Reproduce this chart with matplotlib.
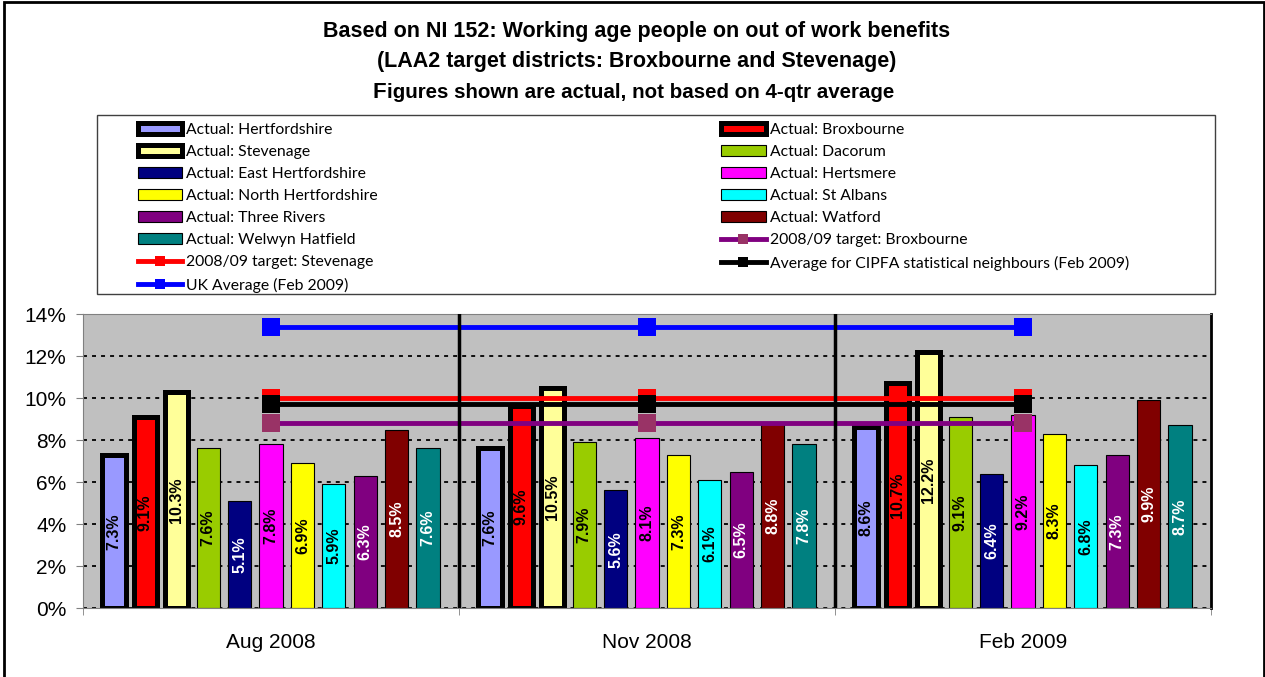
import matplotlib.pyplot as plt
import numpy as np
from matplotlib.patches import Rectangle
from matplotlib.ticker import FuncFormatter

periods = ["Aug 2008", "Nov 2008", "Feb 2009"]
districts = ["Hertfordshire", "Broxbourne", "Stevenage", "Dacorum",
             "East Hertfordshire", "Hertsmere", "North Hertfordshire",
             "St Albans", "Three Rivers", "Watford", "Welwyn Hatfield"]
aug_2008 = [7.3, 9.1, 10.3, 7.6, 5.1, 7.8, 6.9, 5.9, 6.3, 8.5, 7.6]
nov_2008 = [7.6, 9.6, 10.5, 7.9, 5.6, 8.1, 7.3, 6.1, 6.5, 8.8, 7.8]
feb_2009 = [8.6, 10.7, 12.2, 9.1, 6.4, 9.2, 8.3, 6.8, 7.3, 9.9, 8.7]

target_broxbourne = [8.8, 8.8, 8.8]
target_stevenage = [10.0, 10.0, 10.0]
cipfa_average = [9.7, 9.7, 9.7]
uk_average = [13.4, 13.4, 13.4]

bar_colors = ["#9999FF", "#FF0000", "#FFFF99", "#99CC00", "#000080", "#FF00FF",
              "#FFFF00", "#00FFFF", "#800080", "#800000", "#008080"]
label_colors = ["black", "black", "black", "black", "white", "black",
                "black", "black", "white", "white", "white"]

plt.rcParams['font.family'] = ['Liberation Sans', 'DejaVu Sans']

W, H = 1265, 677
fig = plt.figure(figsize=(W / 100, H / 100), dpi=100)
ax = fig.add_axes([83 / W, 1 - 608 / H, (1211 - 83) / W, (608 - 314) / H])
ax.set_facecolor('#C0C0C0')

x = np.arange(len(periods))
pitch, width = 0.0835, 0.062
handles = []
for j, name in enumerate(districts):
    vals = [aug_2008[j], nov_2008[j], feb_2009[j]]
    bars = ax.bar(x + (j - 5) * pitch, vals, width, color=bar_colors[j],
                  edgecolor='black', linewidth=3.6 if j < 3 else 0.8,
                  label='Actual: ' + name, zorder=2)
    ax.bar_label(bars, labels=[f'{v:.1f}%' for v in vals], label_type='center',
                 rotation=90, fontsize=11.5, fontweight='bold', color=label_colors[j])
    handles.append(bars)

lines = [(target_broxbourne, '2008/09 target: Broxbourne', '#800080', '#993366'),
         (target_stevenage, '2008/09 target: Stevenage', '#FF0000', '#FF0000'),
         (cipfa_average, 'Average for CIPFA statistical neighbours (Feb 2009)', 'black', 'black'),
         (uk_average, 'UK Average (Feb 2009)', '#0000FF', '#0000FF')]
for vals, label, c, mc in lines:
    ln, = ax.plot(x, vals, color=c, lw=3.5, marker='s', markersize=13,
                  markerfacecolor=mc, markeredgewidth=0, label=label, zorder=3)
    handles.append(ln)

# category separators
for b in [0.5, 1.5]:
    ax.axvline(b, color='black', lw=2.5, zorder=4)

ax.set_xlim(-0.5, 2.5)
ax.set_ylim(0, 14)
ax.set_yticks(np.arange(0, 15, 2))
ax.yaxis.set_major_formatter(FuncFormatter(lambda v, p: f'{v:.0f}%'))
ax.set_xticks(x)
ax.set_xticklabels(periods)
ax.set_xticks([-0.5, 0.5, 1.5, 2.5], minor=True)
ax.tick_params(axis='x', which='major', length=0, pad=18, labelsize=15)
ax.tick_params(axis='x', which='minor', length=5, color='#808080')
ax.tick_params(axis='y', length=5, color='#808080', pad=7, labelsize=15)
ax.yaxis.grid(True, color='black', linestyle=(0, (2.2, 2.8)), lw=1.3)
ax.set_axisbelow(True)
for s in ['left', 'bottom', 'top']:
    ax.spines[s].set_color('#808080')
ax.spines['right'].set_color('black')
ax.spines['right'].set_linewidth(2)

# legend: box plus two columns
fig.add_artist(Rectangle((97 / W, 1 - 294 / H), (1215 - 97) / W, (294 - 115) / H,
                         transform=fig.transFigure, fill=False, edgecolor='#404040', lw=1))
leg_kw = dict(loc='upper left', frameon=False, borderpad=0, borderaxespad=0,
              prop={'family': 'Lato', 'size': 11.3}, handlelength=2.85, handleheight=0.7,
              handletextpad=0.25, labelspacing=0.52, markerscale=0.6)
col1 = [handles[i] for i in range(0, 15, 2)]
col2 = [handles[i] for i in range(1, 15, 2)]
fig.legend(col1, [h.get_label() for h in col1], bbox_to_anchor=(137.5 / W, 1 - 122.5 / H), **leg_kw)
fig.legend(col2, [h.get_label() for h in col2], bbox_to_anchor=(721 / W, 1 - 122.5 / H), **leg_kw)

# titles
cx = 637 / W
fig.text(cx, 1 - 32 / H, 'Based on NI 152: Working age people on out of work benefits',
         ha='center', va='center', fontsize=15.5, fontweight='bold')
fig.text(cx, 1 - 62 / H, '(LAA2 target districts: Broxbourne and Stevenage)',
         ha='center', va='center', fontsize=15.5, fontweight='bold')
f = fig.text(373 / W, 1 - 98 / H, 'F', ha='left', va='baseline', fontsize=16, fontweight='bold')
ax.annotate('igures shown are actual, not based on 4-qtr average', xy=(1, 1 - 98 / H),
            xycoords=(f, 'figure fraction'), ha='left', va='baseline',
            fontsize=14.8, fontweight='bold')

fig.add_artist(Rectangle((3.5 / W, -0.01), (1263.5 - 3.5) / W, 1.01 - 1.5 / H,
                         transform=fig.transFigure, fill=False, edgecolor='black', lw=2))

fig.savefig('out.png', dpi=100)
